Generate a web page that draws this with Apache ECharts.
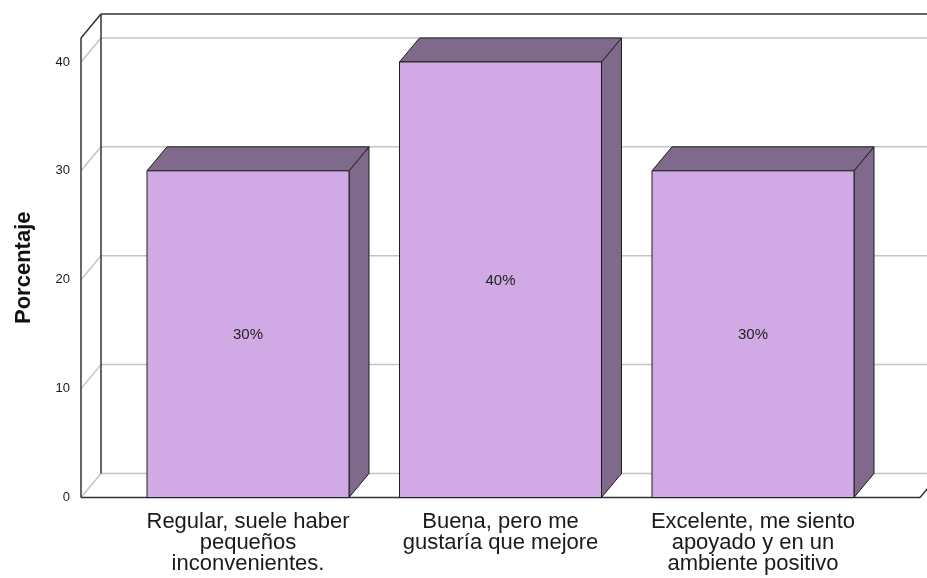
<!DOCTYPE html>
<html>
<head>
<meta charset="utf-8">
<script src="https://cdn.jsdelivr.net/npm/echarts@6/dist/echarts.min.js"></script>
<style>
  html, body { margin: 0; padding: 0; background: #fff; }
  #chart { width: 927px; height: 578px; }
</style>
</head>
<body>
<div id="chart"></div>
<script>
// Categories (answer options) and their percentages
const categories = [
  'Regular, suele haber\npequeños\ninconvenientes.',
  'Buena, pero me\ngustaría que mejore',
  'Excelente, me siento\napoyado y en un\nambiente positivo'
];
const percentages = [30, 40, 30];
const yTicks = [0, 10, 20, 30, 40];
const yAxisTitle = 'Porcentaje';

// 3D look: offset of the back plane relative to the front plane (pixels)
const DEPTH_X = 20;
const DEPTH_Y = -24;
const BAR_WIDTH = 0.8; // in category units
const FRONT = '#d1a9e4';
const SHADE = '#7f6a8c';
const EDGE = '#1e1e1e';
const WALL_DARK = '#333333';
const WALL_GRID = '#c4c4c4';

const chart = echarts.init(document.getElementById('chart'), null, { renderer: 'canvas' });

// Walls, floor and back-wall grid lines of the 3D box
function renderFrame(params, api) {
  const cs = params.coordSys;
  const left = cs.x, right = cs.x + cs.width;
  const top = cs.y, bottom = cs.y + cs.height;
  const far = right + DEPTH_X + 40;
  const line = (x1, y1, x2, y2, color, w) => ({
    type: 'line',
    shape: { x1, y1, x2, y2 },
    style: { stroke: color, lineWidth: w }
  });
  const children = [];
  // white back wall + left wall + floor
  children.push({
    type: 'polygon',
    shape: { points: [[left, top], [left + DEPTH_X, top + DEPTH_Y], [far, top + DEPTH_Y], [far, bottom + DEPTH_Y], [right + DEPTH_X, bottom + DEPTH_Y], [right, bottom], [left, bottom]] },
    style: { fill: '#ffffff' }
  });
  // grid lines on the back wall with connectors across the left wall
  yTicks.forEach(t => {
    const y = api.coord([0, t])[1];
    children.push(line(left + DEPTH_X, y + DEPTH_Y, far, y + DEPTH_Y, WALL_GRID, 1.5));
    children.push(line(left, y, left + DEPTH_X, y + DEPTH_Y, WALL_GRID, 1.5));
  });
  // outline edges
  children.push(line(left, top, left, bottom, WALL_DARK, 1.5));
  children.push(line(left, top, left + DEPTH_X, top + DEPTH_Y, WALL_DARK, 1.5));
  children.push(line(left + DEPTH_X, top + DEPTH_Y, left + DEPTH_X, bottom + DEPTH_Y, WALL_DARK, 1.5));
  children.push(line(left + DEPTH_X, top + DEPTH_Y, far, top + DEPTH_Y, WALL_DARK, 1.5));
  children.push(line(left, bottom, right, bottom, WALL_DARK, 1.5));
  children.push(line(right, bottom, right + DEPTH_X, bottom + DEPTH_Y, WALL_DARK, 1.5));
  return { type: 'group', children };
}

// One 3D box per category
function renderBar(params, api) {
  const i = api.value(0);
  const v = api.value(1);
  const topPt = api.coord([i, v]);
  const basePt = api.coord([i, 0]);
  const w = api.size([BAR_WIDTH, 0])[0];
  const x0 = topPt[0] - w / 2, x1 = topPt[0] + w / 2;
  const yT = topPt[1], yB = basePt[1];
  const edge = { stroke: EDGE, lineWidth: 1 };
  return {
    type: 'group',
    children: [
      {
        type: 'polygon',
        shape: { points: [[x1, yT], [x1 + DEPTH_X, yT + DEPTH_Y], [x1 + DEPTH_X, yB + DEPTH_Y], [x1, yB]] },
        style: Object.assign({ fill: SHADE }, edge)
      },
      {
        type: 'polygon',
        shape: { points: [[x0, yT], [x0 + DEPTH_X, yT + DEPTH_Y], [x1 + DEPTH_X, yT + DEPTH_Y], [x1, yT]] },
        style: Object.assign({ fill: SHADE }, edge)
      },
      {
        type: 'rect',
        shape: { x: x0, y: yT, width: w, height: yB - yT },
        style: Object.assign({ fill: FRONT }, edge)
      },
      {
        type: 'text',
        x: topPt[0],
        y: (yT + yB) / 2 + 1,
        style: {
          text: v + '%',
          fill: '#222',
          font: '15px "Liberation Sans", Arial, sans-serif',
          align: 'center',
          verticalAlign: 'middle'
        }
      }
    ]
  };
}

const xPad = 0.6614;

chart.setOption({
  animation: false,
  backgroundColor: '#ffffff',
  textStyle: { fontFamily: '"Liberation Sans", Arial, sans-serif' },
  grid: { left: 81, right: 7, top: 38, bottom: 80.5 },
  xAxis: {
    type: 'value',
    min: -xPad,
    max: categories.length - 1 + xPad,
    splitLine: { show: false },
    axisLine: { show: false },
    axisTick: { show: false },
    axisLabel: {
      customValues: categories.map((c, i) => i),
      formatter: v => categories[Math.round(v)],
      fontSize: 22,
      lineHeight: 21,
      margin: 14,
      color: '#1a1a1a',
      align: 'center'
    }
  },
  yAxis: {
    type: 'value',
    min: 0,
    max: 42.2,
    interval: 10,
    name: yAxisTitle,
    nameLocation: 'middle',
    nameGap: 46,
    nameTextStyle: { fontSize: 22, fontWeight: 'bold', color: '#111' },
    splitLine: { show: false },
    axisLine: { show: false },
    axisTick: { show: false },
    axisLabel: {
      customValues: yTicks,
      fontSize: 13,
      margin: 11,
      color: '#1a1a1a'
    }
  },
  series: [
    {
      type: 'custom',
      renderItem: renderFrame,
      data: [[0, 0]],
      clip: false,
      silent: true,
      z: 1
    },
    {
      type: 'custom',
      renderItem: renderBar,
      data: percentages.map((v, i) => [i, v]),
      clip: false,
      silent: true,
      z: 2
    }
  ]
});
</script>
</body>
</html>
